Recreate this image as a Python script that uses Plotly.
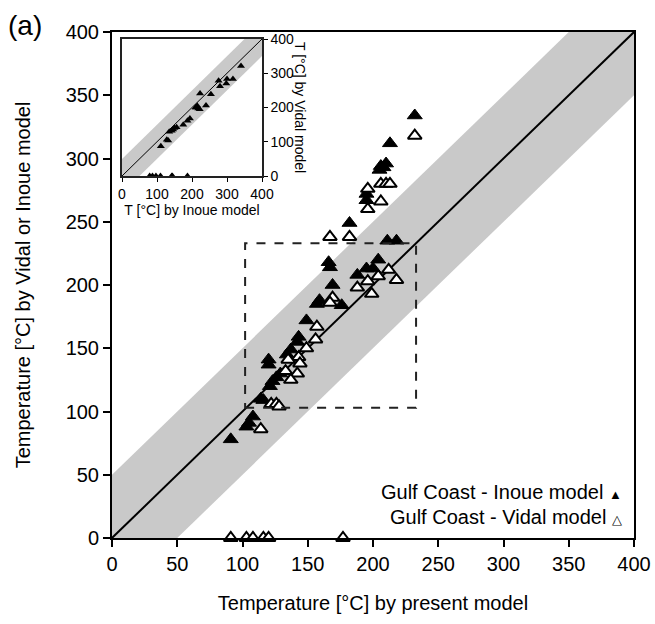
import plotly.graph_objects as go

# ---------------- data ----------------
# Main plot: present model temperature (x) vs Inoue model (filled) / Vidal model (open)
inoue_x = [232, 213, 206, 210, 205, 208, 195, 195, 182, 211, 218, 166, 167, 204, 195, 200,
           188, 169, 159, 157, 176, 149, 143, 142, 137, 134, 120, 120, 129, 126, 123, 121,
           114, 116, 108, 105, 103, 91]
inoue_y = [334, 312, 294, 296, 291, 293, 272, 267, 249, 235, 235, 218, 214, 220, 213, 213,
           208, 200, 188, 185, 184, 172, 159, 155, 149, 145, 141, 137, 130, 127, 124, 120,
           110, 109, 96, 91, 88, 78]

vidal_x = [232, 206, 210, 213, 196, 206, 196, 167, 182, 212, 204, 218, 196, 188, 199, 169,
           167, 157, 156, 149, 143, 144, 135, 133, 142, 137, 122, 126, 128, 114,
           91, 103, 108, 116, 120, 177]
vidal_y = [318, 280, 280, 280, 276, 266, 260, 238, 238, 212, 207, 204, 203, 198, 193, 190,
           186, 167, 157, 150, 143, 138, 141, 132, 130, 125, 106, 106, 104, 86,
           0, 0, 0, 0, 0, 0]

# Inset: Inoue model (x) vs Vidal model (y)
inset_x = [340, 317, 300, 298, 276, 280, 254, 223, 240, 215, 210, 218, 222, 212, 194, 187,
           175, 156, 150, 146, 142, 135, 132, 128, 111, 79, 87, 97, 110, 142, 144, 187]
inset_y = [321, 283, 283, 270, 278, 262, 239, 241, 206, 205, 200, 197, 195, 200, 168, 161,
           150, 142, 140, 136, 132, 129, 104, 106, 87, 0, 0, 0, 0, 0, 0, 0]

axis_range = [0, 400]
main_ticks = [0, 50, 100, 150, 200, 250, 300, 350, 400]
inset_ticks = [0, 100, 200, 300, 400]
band_half_width = 50
dashed_box_x = [102, 233]
dashed_box_y = [103, 233]

FONT = "Liberation Sans, Arial, sans-serif"

W, H = 655, 624
L, T, R, B = 112, 32, 21, 86
PW, PH = W - L - R, H - T - B


def px_x(px):
    """window pixel -> paper x"""
    return (px - L) / PW


def px_y(py):
    """window pixel -> paper y"""
    return (H - B - py) / PH


def band_polygon(lo, hi, w):
    xs = [lo, hi - w, hi, hi, lo + w, lo, lo]
    ys = [lo + w, hi, hi, hi - w, lo, lo, lo + w]
    return xs, ys


fig = go.Figure()

# ---------------- main plot ----------------
bx, by = band_polygon(axis_range[0], axis_range[1], band_half_width)
fig.add_trace(go.Scatter(x=bx, y=by, fill="toself", fillcolor="#c9c9c9",
                         line=dict(width=0), mode="lines", hoverinfo="skip",
                         showlegend=False, xaxis="x", yaxis="y"))
fig.add_trace(go.Scatter(x=axis_range, y=axis_range, mode="lines",
                         line=dict(color="black", width=2), showlegend=False,
                         xaxis="x", yaxis="y"))
fig.add_trace(go.Scatter(x=inoue_x, y=inoue_y, mode="markers", name="Gulf Coast - Inoue model",
                         marker=dict(symbol="triangle-up", size=13, color="black",
                                     line=dict(color="black", width=1)),
                         showlegend=False, xaxis="x", yaxis="y"))
fig.add_trace(go.Scatter(x=vidal_x, y=vidal_y, mode="markers", name="Gulf Coast - Vidal model",
                         marker=dict(symbol="triangle-up", size=12, color="white",
                                     line=dict(color="black", width=2)),
                         showlegend=False, cliponaxis=False, xaxis="x", yaxis="y"))

# ---------------- inset ----------------
ibx, iby = band_polygon(axis_range[0], axis_range[1], band_half_width)
fig.add_trace(go.Scatter(x=ibx, y=iby, fill="toself", fillcolor="#c9c9c9",
                         line=dict(width=0), mode="lines", hoverinfo="skip",
                         showlegend=False, xaxis="x2", yaxis="y2"))
fig.add_trace(go.Scatter(x=axis_range, y=axis_range, mode="lines",
                         line=dict(color="black", width=1), showlegend=False,
                         xaxis="x2", yaxis="y2"))
fig.add_trace(go.Scatter(x=inset_x, y=inset_y, mode="markers",
                         marker=dict(symbol="triangle-up", size=7, color="black"),
                         showlegend=False, cliponaxis=False, xaxis="x2", yaxis="y2"))

fig.update_layout(
    width=W, height=H,
    margin=dict(l=L, r=R, t=T, b=B),
    paper_bgcolor="white", plot_bgcolor="white",
    font=dict(family=FONT, color="black", size=20),
    showlegend=False,
    xaxis=dict(range=axis_range, tickvals=main_ticks, ticks="outside", ticklen=7,
               tickwidth=2, tickcolor="black", showline=True, linecolor="black",
               linewidth=2, mirror=True, showgrid=False, zeroline=False,
               automargin=False, tickfont=dict(size=20),
               title=dict(text="Temperature [°C] by present model",
                          font=dict(size=20), standoff=22)),
    yaxis=dict(range=axis_range, tickvals=main_ticks, ticks="outside", ticklen=7,
               tickwidth=2, tickcolor="black", showline=True, linecolor="black",
               linewidth=2, mirror=True, showgrid=False, zeroline=False,
               automargin=False, tickfont=dict(size=20),
               title=dict(text="Temperature [°C] by Vidal or Inoue model",
                          font=dict(size=20), standoff=30)),
    xaxis2=dict(domain=[px_x(122), px_x(262)], anchor="y2", range=axis_range,
                tickvals=inset_ticks, ticks="outside", ticklen=4, tickcolor="black",
                showline=True, linecolor="#222", linewidth=1.5, mirror=True,
                showgrid=False, zeroline=False, tickfont=dict(size=14), automargin=False,
                title=dict(text="T [°C] by Inoue model", font=dict(size=14), standoff=2)),
    yaxis2=dict(domain=[px_y(176), px_y(39)], anchor="x2", side="right", range=axis_range,
                tickvals=inset_ticks, ticks="outside", ticklen=4, tickcolor="black",
                showline=True, linecolor="#222", linewidth=1.5, mirror=True,
                showgrid=False, zeroline=False, tickfont=dict(size=14), automargin=False),
)

# dashed rectangle
fig.add_shape(type="rect", xref="x", yref="y",
              x0=dashed_box_x[0], x1=dashed_box_x[1], y0=dashed_box_y[0], y1=dashed_box_y[1],
              line=dict(color="#222", width=2, dash="dash"))

# inset y title (reads top to bottom on the right)
fig.add_annotation(text="T [°C] by Vidal model", xref="paper", yref="paper",
                   x=px_x(300), y=px_y(107), textangle=90, showarrow=False,
                   font=dict(size=14), xanchor="center", yanchor="middle")

# legend texts
fig.add_annotation(text="Gulf Coast - Inoue model <span style='font-size:13px'>▲</span>",
                   xref="paper", yref="paper",
                   x=px_x(624), y=px_y(492), showarrow=False, xanchor="right",
                   yanchor="middle", font=dict(size=20))
fig.add_annotation(text="Gulf Coast - Vidal model <span style='font-size:13px'>△</span>",
                   xref="paper", yref="paper",
                   x=px_x(624), y=px_y(517), showarrow=False, xanchor="right",
                   yanchor="middle", font=dict(size=20))

# panel label
fig.add_annotation(text="(a)", xref="paper", yref="paper", x=px_x(6),
                   y=px_y(25), showarrow=False, xanchor="left",
                   yanchor="middle", font=dict(size=28))

# remove the default 8px page margin so the figure fills the 655x624 window exactly
fig.write_html("out.html", config={"displayModeBar": False},
               post_script="document.body.style.margin='0px';")
